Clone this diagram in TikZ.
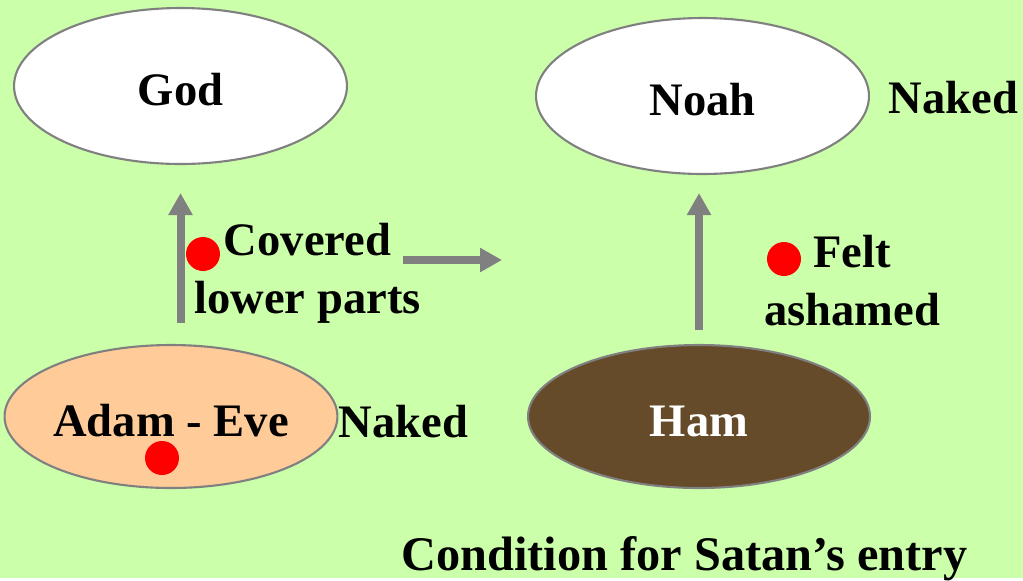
\documentclass[tikz,border=0pt]{standalone}
\usepackage{fontspec}
\setmainfont{Liberation Serif}
\usetikzlibrary{shapes.geometric,arrows.meta}
\definecolor{leaf}{RGB}{204,255,170}
\definecolor{peach}{RGB}{255,204,153}
\definecolor{bark}{RGB}{101,75,41}
\newcommand{\bigbf}{\fontsize{26.5}{33}\selectfont\bfseries}
\tikzset{
  oval/.style={ellipse,draw=gray,line width=1.2pt,minimum width=6.66cm,minimum height=3.12cm,inner sep=0pt,font=\bigbf,text height=0.78cm,text depth=0pt},
  txt/.style={font=\bigbf,anchor=base,inner sep=0pt,align=center},
  dot/.style={circle,fill=red,minimum size=0.68cm,inner sep=0pt},
  flow/.style={-{Triangle[length=0.44cm,width=0.46cm]},line width=0.16cm,gray},
}
\begin{document}
\begin{tikzpicture}[x=0.02cm,y=-0.02cm]
  \fill[leaf] (0,0) rectangle (1023,578);
  \node[oval,fill=white](God) at (180.5,86){God}; \node[oval,fill=white](Noah) at (702.5,96){Noah};
  \node[oval,fill=peach,minimum width=6.6cm,minimum height=2.86cm](Adam) at (171,416.5){Adam - Eve};
  \node[oval,fill=bark,text=white,minimum width=6.84cm,minimum height=2.86cm](Ham) at (699,416.5){Ham};
  \node[txt](nakedN) at (953.5,113){Naked}; \node[txt](nakedA) at (403.5,437){Naked};
  \node[txt](covered) at (307.5,313){Covered\\lower parts}; \node[txt](ashamed) at (852,325){Felt\\ashamed};
  \node[txt,font=\fontsize{27.5}{33}\selectfont\bfseries](cond) at (684.5,570){Condition for Satan’s entry};
  \node[dot](dotA) at (203,254){}; \node[dot](dotB) at (162,458){}; \node[dot](dotC) at (784,259){};
  \coordinate (shiftA) at (403,260); \coordinate (shiftB) at (502,260);
  \draw[flow,xshift=-0.09cm,shorten <=0.42cm,shorten >=0.56cm] (God.south |- Adam.north) -- (God.south);
  \draw[flow,shorten <=0.28cm,shorten >=0.36cm] (Ham.north) -- (Ham.north |- Noah.south);
  \draw[flow] (shiftA) -- (shiftB);
\end{tikzpicture}
\end{document}
